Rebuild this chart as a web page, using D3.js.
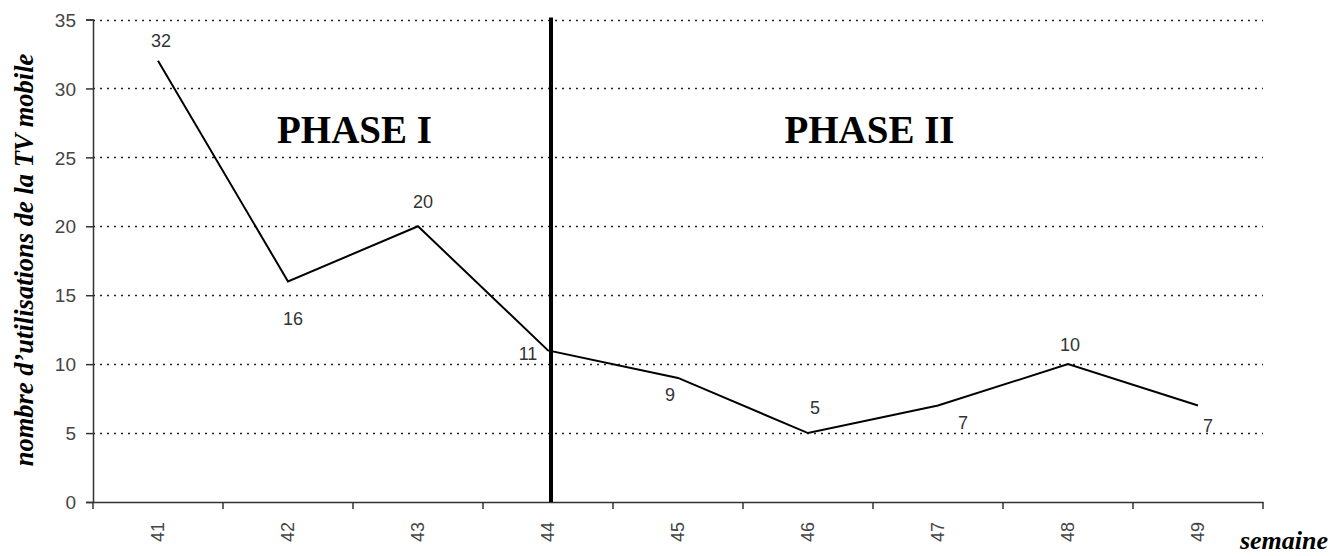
<!DOCTYPE html>
<html><head><meta charset="utf-8">
<script src="https://cdn.jsdelivr.net/npm/d3@7"></script>
<style>body{margin:0;background:#fff}svg{display:block}</style>
</head><body>
<svg id="c" width="1344" height="556"></svg>
<script>
const weeks = ["41","42","43","44","45","46","47","48","49"];
const values = [32,16,20,11,9,5,7,10,7];
const yTicks = [0,5,10,15,20,25,30,35];
const phaseNames = ["PHASE I","PHASE II"];
const phaseBoundary = "44";
const yTitle = "nombre d\u2019utilisations de la TV mobile";
const xTitle = "semaine";

// label placement offsets (style, px)
const labelOffsets = [[3,-20],[5,37],[5,-25],[-20,3],[-8,17],[7,-25],[25,17],[2,-19],[10,20]];

const svg = d3.select("#c");
const m = {l:93, r:1263, t:19.5, b:502};
const x = d3.scaleBand().domain(weeks).range([m.l, m.r]);
const y = d3.scaleLinear().domain([0,35]).range([m.b, m.t]);
const cx = d => x(d) + x.bandwidth()/2;

// gridlines
svg.append("g").selectAll("line").data(yTicks.filter(v=>v>0)).join("line")
  .attr("x1", m.l).attr("x2", m.r)
  .attr("y1", d=>Math.round(y(d))+0.5).attr("y2", d=>Math.round(y(d))+0.5)
  .attr("stroke","#222").attr("stroke-width",1.4).attr("stroke-dasharray","2,5");

// y axis
const ya = svg.append("g").attr("transform",`translate(${m.l},0)`)
  .call(d3.axisLeft(y).tickValues(yTicks).tickSize(7).tickPadding(10));
ya.select(".domain").attr("stroke","#333").attr("stroke-width",1.5);
ya.selectAll(".tick line").attr("stroke","#333").attr("stroke-width",1.5);
ya.selectAll("text").attr("font-family","'Liberation Sans', Arial, sans-serif").attr("font-size",19).attr("fill","#444").attr("dy","0.35em");

// x axis
const xa = svg.append("g").attr("transform",`translate(0,${m.b})`)
  .call(d3.axisBottom(x).tickSize(0).tickSizeOuter(0));
xa.select(".domain").attr("stroke","#333").attr("stroke-width",1.5);
xa.selectAll(".tick text")
  .attr("transform","rotate(-90)")
  .attr("x",-30).attr("y",0).attr("dy","0.35em")
  .style("text-anchor","middle")
  .attr("font-family","'Liberation Sans', Arial, sans-serif").attr("font-size",18).attr("fill","#444");
// band boundary ticks
const bounds = weeks.map(w=>x(w)).concat([m.r]);
svg.append("g").selectAll("line").data(bounds).join("line")
  .attr("x1",d=>d).attr("x2",d=>d).attr("y1",m.b).attr("y2",m.b+7)
  .attr("stroke","#333").attr("stroke-width",1.5);

// phase boundary
svg.append("line").attr("x1",cx(phaseBoundary)+3).attr("x2",cx(phaseBoundary)+3)
  .attr("y1",m.t-2).attr("y2",m.b).attr("stroke","#000").attr("stroke-width",4);

// line
svg.append("path").datum(weeks.map((w,i)=>[cx(w), y(values[i])]))
  .attr("d", d3.line()).attr("fill","none").attr("stroke","#000").attr("stroke-width",2);

// data labels
svg.append("g").selectAll("text").data(weeks).join("text")
  .attr("x",(w,i)=>cx(w)+labelOffsets[i][0])
  .attr("y",(w,i)=>y(values[i])+labelOffsets[i][1])
  .attr("dy","0.35em").attr("text-anchor","middle")
  .attr("font-family","'Liberation Sans', Arial, sans-serif").attr("font-size",18).attr("fill","#333")
  .text((w,i)=>values[i]);

// phase titles
const phaseX = [ (x(weeks[0]) + cx(phaseBoundary))/2 + 34, (cx(phaseBoundary) + m.r)/2 - 36 ];
svg.append("g").selectAll("text").data(phaseNames).join("text")
  .attr("x",(d,i)=>phaseX[i])
  .attr("y",143).attr("text-anchor","middle")
  .attr("font-family","'Liberation Serif', 'Times New Roman', serif").attr("font-weight","bold").attr("font-size",39)
  .text(d=>d);

// axis titles
svg.append("text").attr("transform",`translate(33,260) rotate(-90)`)
  .attr("text-anchor","middle")
  .attr("font-family","'Liberation Serif', 'Times New Roman', serif").attr("font-weight","bold").attr("font-style","italic").attr("font-size",26.5)
  .text(yTitle);
svg.append("text").attr("x",1284).attr("y",549).attr("text-anchor","middle")
  .attr("font-family","'Liberation Serif', 'Times New Roman', serif").attr("font-weight","bold").attr("font-style","italic").attr("font-size",26)
  .text(xTitle);
</script>
</body></html>
